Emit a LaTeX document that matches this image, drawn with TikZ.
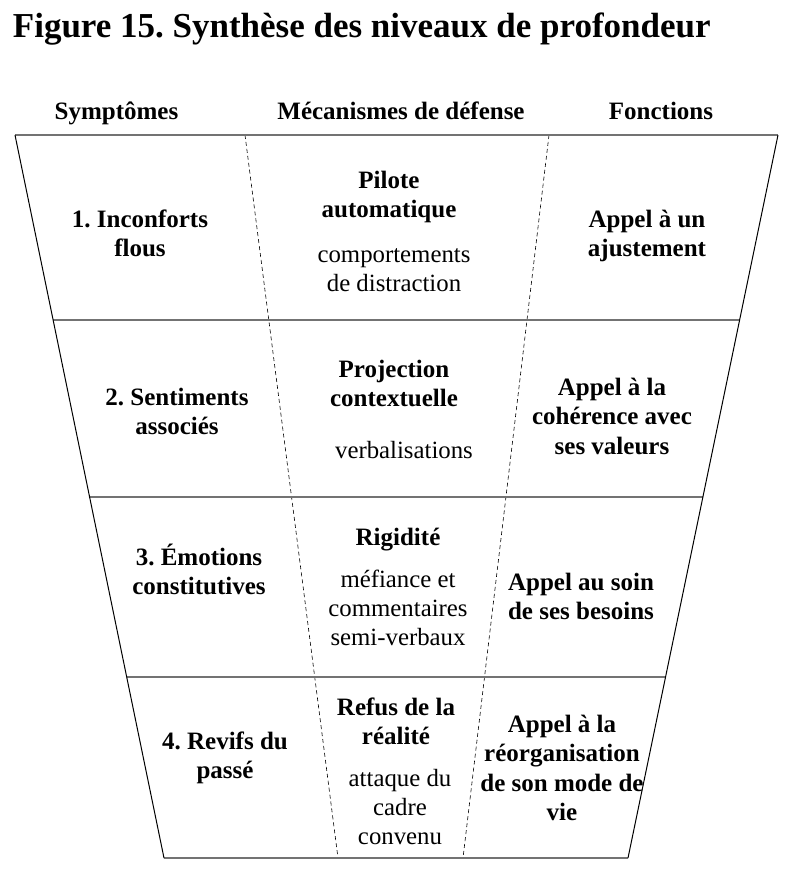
\documentclass[tikz,border=0pt]{standalone}
\usepackage{fontspec}
\setmainfont{Liberation Serif}
\frenchspacing
\newcommand{\blk}[1]{\begin{tabular}[t]{@{}c@{}}#1\end{tabular}}
\begin{document}
\begin{tikzpicture}[x=1pt,y=-1pt]
\useasboundingbox (0,0) rectangle (798,871);
\tikzset{
  sideline/.style={black, line width=1pt},
  rowline/.style={draw=black!55, line width=1.7pt},
  sepline/.style={black, line width=0.6pt, dash pattern=on 4pt off 3pt},
  bt/.style={inner sep=0pt, anchor=base, font=\fontsize{25}{29.5}\selectfont\bfseries},
  rt/.style={inner sep=0pt, anchor=base, font=\fontsize{24.8}{29.2}\selectfont},
  titletext/.style={inner sep=0pt, anchor=base west, font=\fontsize{35}{40}\selectfont\bfseries},
}
% frame corners
\coordinate (TL) at (15,135);
\coordinate (TR) at (778,135);
\coordinate (BL) at (164,858);
\coordinate (BR) at (628,858);
% row dividers
\coordinate (L1) at (53.1,320);  \coordinate (R1) at (739.6,320);
\coordinate (L2) at (89.6,497);  \coordinate (R2) at (702.9,497);
\coordinate (L3) at (126.7,677); \coordinate (R3) at (665.6,677);
% dashed separators
\coordinate (DLa) at (245,135); \coordinate (DLb) at (338,858);
\coordinate (DRa) at (549,135); \coordinate (DRb) at (463,858);

\draw[sepline] (DLa) -- (DLb);
\draw[sepline] (DRa) -- (DRb);
\draw[rowline] (TL) -- (TR);
\draw[rowline] (BL) -- (BR);
\draw[rowline] (L1) -- (R1);
\draw[rowline] (L2) -- (R2);
\draw[rowline] (L3) -- (R3);
\draw[sideline] (TL) -- (BL);
\draw[sideline] (TR) -- (BR);

% title and headers
\node[titletext] (title) at (12.7,37) {Figure 15. Synthèse des niveaux de profondeur};
\node[bt] (h1) at (116.5,119) {Symptômes};
\node[bt] (h2) at (401,119) {Mécanismes de défense};
\node[bt] (h3) at (661,119) {Fonctions};

% row 1
\node[bt] (s1) at (140,227) {\blk{1. Inconforts\\flous}};
\node[bt] (m1) at (389,188) {\blk{Pilote\\automatique}};
\node[rt] (r1) at (394,262) {\blk{comportements\\de distraction}};
\node[bt] (f1) at (647,227) {\blk{Appel à un\\ajustement}};

% row 2
\node[bt] (s2) at (177,405) {\blk{2. Sentiments\\associés}};
\node[bt] (m2) at (394,377) {\blk{Projection\\contextuelle}};
\node[rt] (r2) at (404,458) {verbalisations};
\node[bt] (f2) at (612,395) {\blk{Appel à la\\cohérence avec\\ses valeurs}};

% row 3
\node[bt] (s3) at (199,565) {\blk{3. Émotions\\constitutives}};
\node[bt] (m3) at (398,545) {Rigidité};
\node[rt] (r3) at (398,587) {\blk{méfiance et\\commentaires\\semi-verbaux}};
\node[bt] (f3) at (581,590) {\blk{Appel au soin\\de ses besoins}};

% row 4
\node[bt] (s4) at (225,749) {\blk{4. Revifs du\\passé}};
\node[bt] (m4) at (396,715) {\blk{Refus de la\\réalité}};
\node[rt] (r4) at (400,786) {\blk{attaque du\\cadre\\convenu}};
\node[bt] (f4) at (562,732) {\blk{Appel à la\\réorganisation\\de son mode de\\vie}};
\end{tikzpicture}
\end{document}
